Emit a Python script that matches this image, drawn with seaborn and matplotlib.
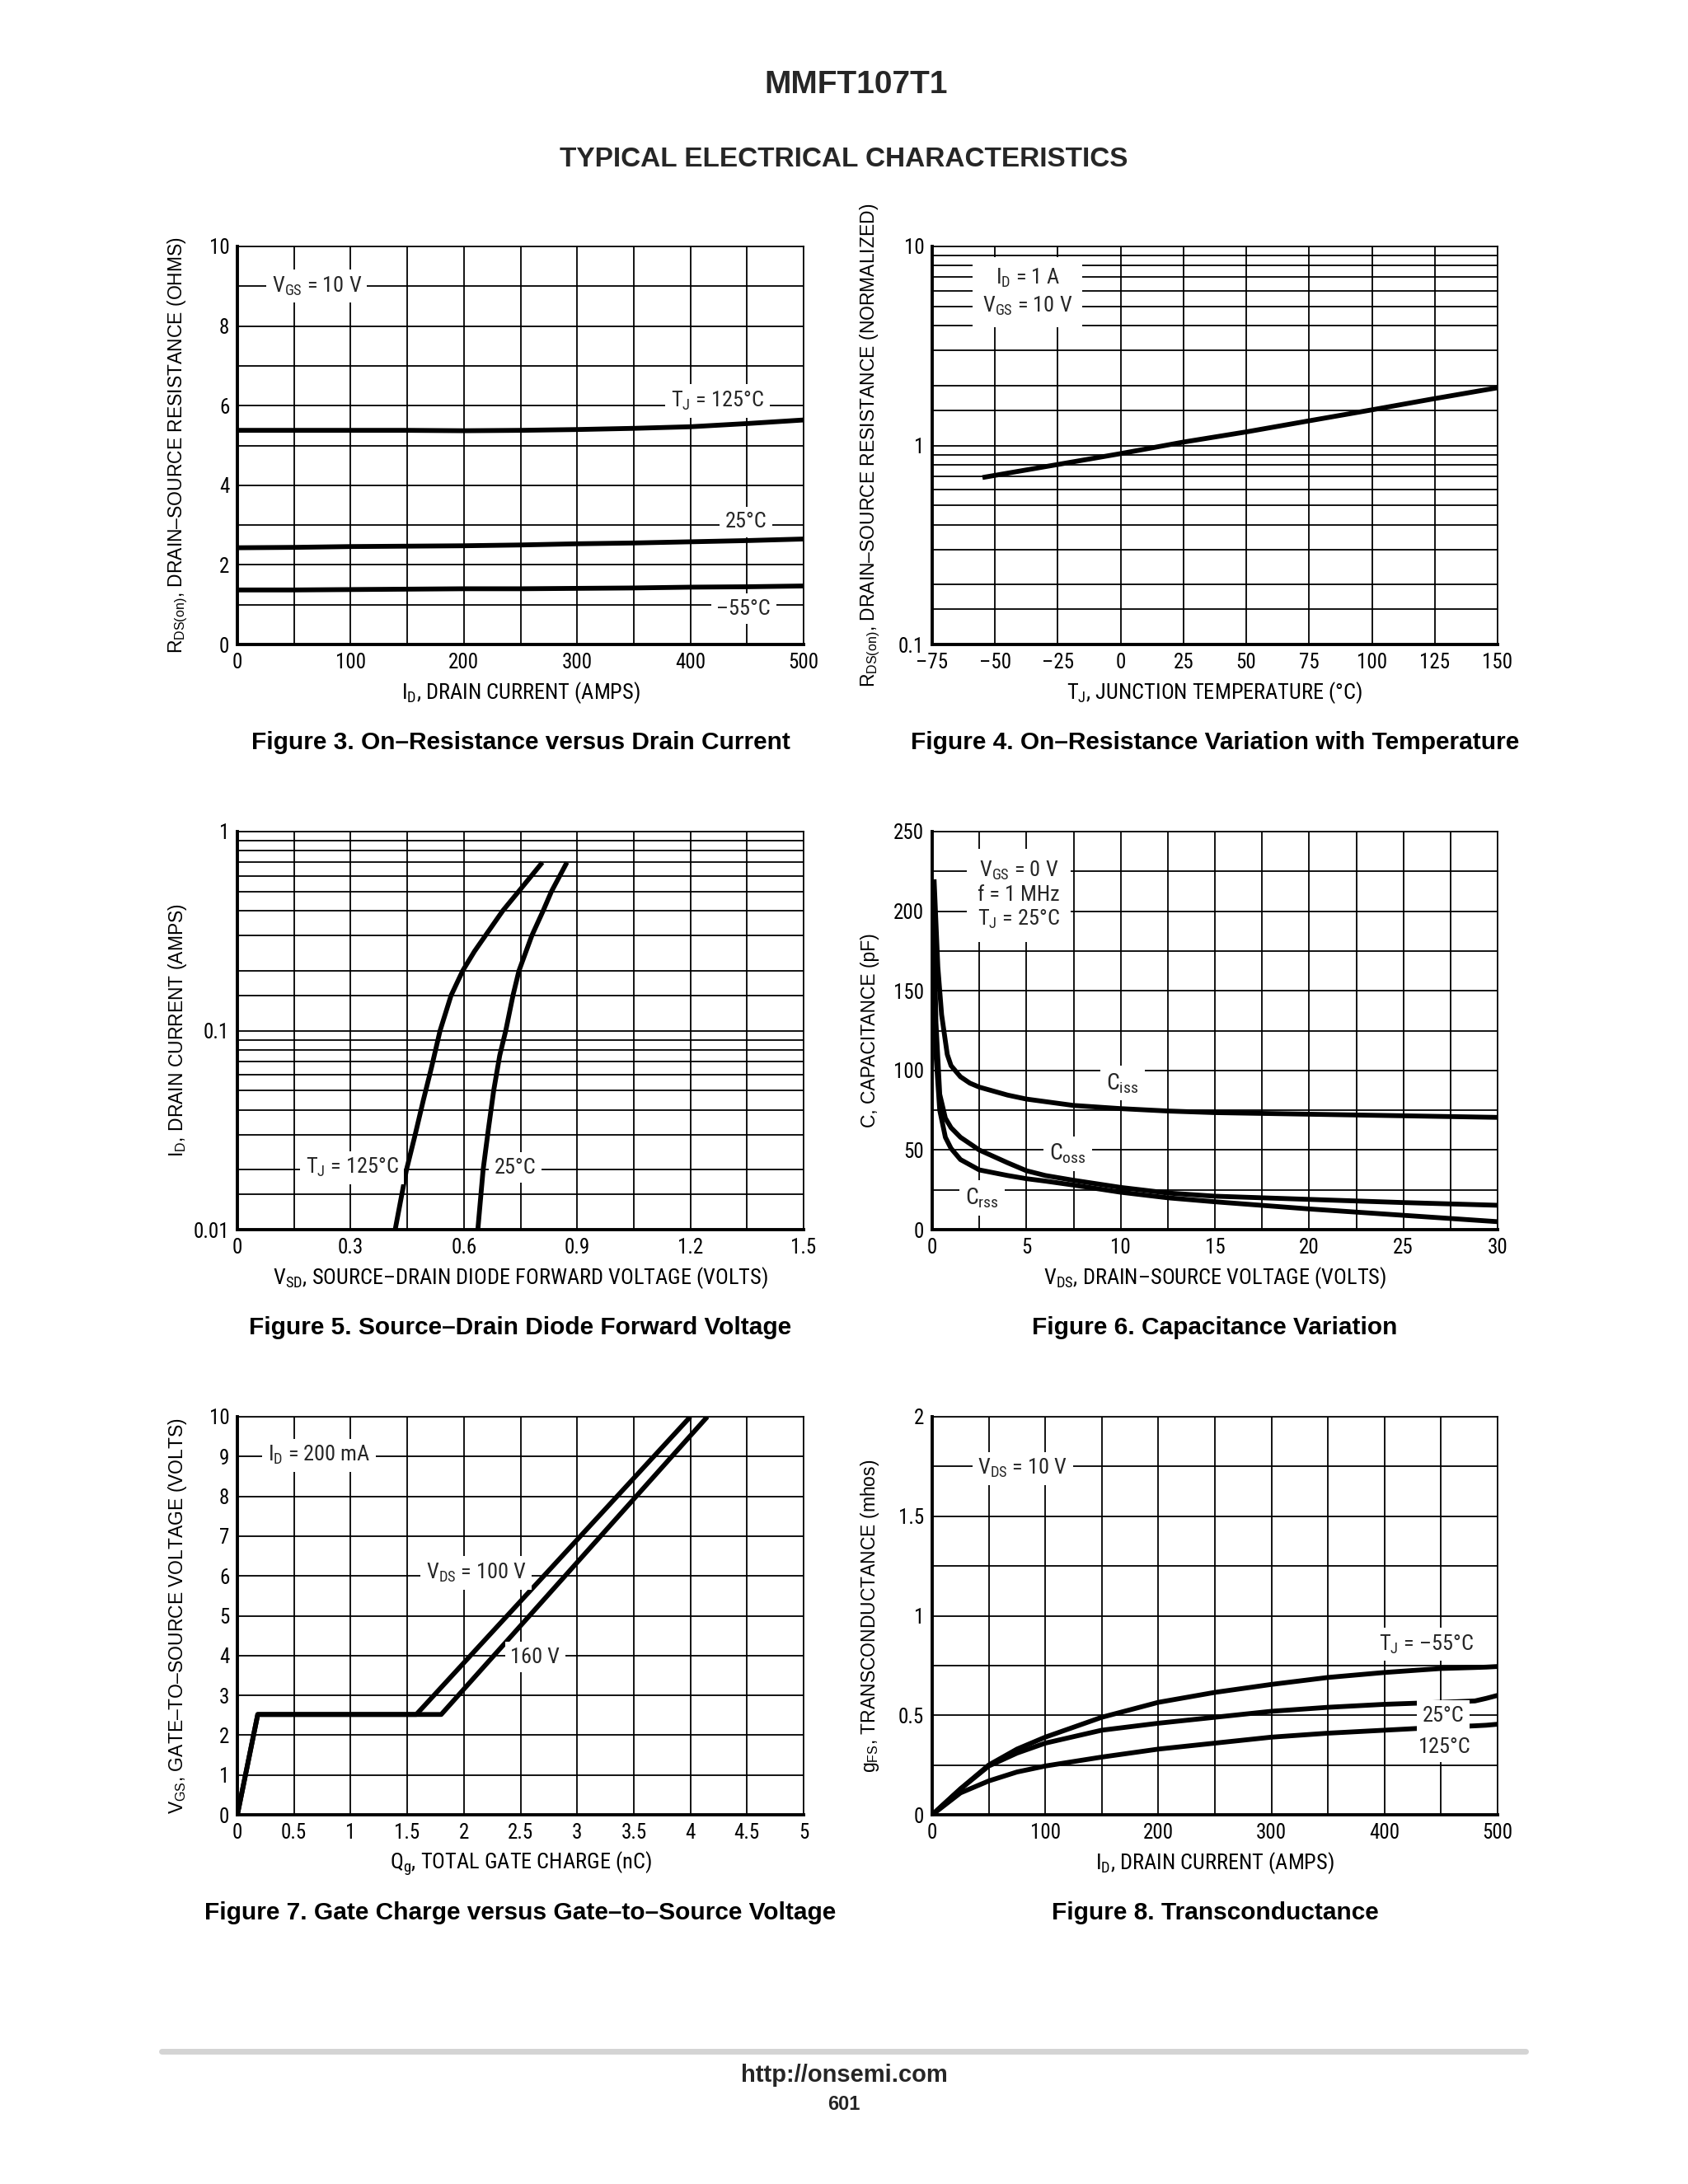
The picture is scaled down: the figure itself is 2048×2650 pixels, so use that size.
import numpy as np
import pandas as pd
import matplotlib
matplotlib.use("Agg")
import matplotlib.pyplot as plt
import seaborn as sns
from matplotlib import font_manager
from matplotlib.lines import Line2D
from matplotlib.ticker import NullFormatter, FixedLocator

# ---------------- DATA ----------------
# Figure 3: On-resistance vs drain current
fig3_id = [0, 50, 100, 150, 200, 250, 300, 350, 400, 450, 500]
fig3_r_125 = [5.38, 5.38, 5.38, 5.38, 5.37, 5.38, 5.40, 5.43, 5.47, 5.55, 5.64]
fig3_r_25 = [2.43, 2.44, 2.46, 2.47, 2.48, 2.50, 2.53, 2.55, 2.58, 2.61, 2.65]
fig3_r_m55 = [1.37, 1.37, 1.38, 1.39, 1.40, 1.40, 1.41, 1.42, 1.44, 1.45, 1.47]

# Figure 4: normalized on-resistance vs temperature
fig4_tj = [-55, 0, 25, 50, 75, 100, 125, 150]
fig4_r = [0.69, 0.91, 1.04, 1.17, 1.33, 1.51, 1.72, 1.95]

# Figure 5: source-drain diode forward voltage
fig5_v_125 = [0.418, 0.448, 0.471, 0.493, 0.514, 0.537, 0.566, 0.597, 0.628, 0.657, 0.703, 0.745, 0.808]
fig5_i_125 = [0.010, 0.020, 0.030, 0.045, 0.065, 0.100, 0.150, 0.200, 0.250, 0.300, 0.400, 0.500, 0.700]
fig5_v_25 = [0.637, 0.651, 0.665, 0.679, 0.695, 0.711, 0.730, 0.746, 0.780, 0.810, 0.832, 0.873]
fig5_i_25 = [0.010, 0.020, 0.032, 0.050, 0.075, 0.100, 0.150, 0.200, 0.300, 0.400, 0.500, 0.700]

# Figure 6: capacitance variation
fig6_v_iss = [0.1, 0.3, 0.5, 0.8, 1.0, 1.5, 2.0, 2.5, 4, 5, 7.5, 10, 12.5, 15, 20, 25, 30]
fig6_c_iss = [220, 165, 135, 110, 103, 96, 92, 89.5, 84.5, 82, 78, 76, 74.5, 73.5, 72.5, 71.5, 70.5]
fig6_v_oss = [0.05, 0.2, 0.4, 0.7, 1.0, 1.5, 2.5, 4, 5, 6, 7.5, 10, 12.5, 15, 20, 25, 30]
fig6_c_oss = [210, 130, 85, 70, 64, 58, 50, 42, 37, 34, 31, 26.5, 23, 21, 19, 17, 15.3]
fig6_v_rss = [0.05, 0.2, 0.4, 0.7, 1.0, 1.5, 2.5, 4, 5, 6, 7.5, 10, 12.5, 15, 20, 25, 30]
fig6_c_rss = [190, 110, 75, 58, 51, 44, 37.5, 34, 32, 30.5, 28, 23.5, 20, 17.5, 13, 9, 5]

# Figure 7: gate charge
fig7_q_100 = [0, 0.18, 1.58, 4.0]
fig7_v_100 = [0, 2.52, 2.52, 10]
fig7_q_160 = [0, 0.18, 1.80, 4.15]
fig7_v_160 = [0, 2.52, 2.52, 10]

# Figure 8: transconductance
fig8_id = [0, 25, 50, 75, 100, 150, 200, 250, 300, 350, 400, 450, 480, 490, 500]
fig8_g_m55 = [0, 0.13, 0.25, 0.33, 0.39, 0.49, 0.565, 0.615, 0.655, 0.69, 0.715, 0.735, 0.740, 0.742, 0.745]
fig8_g_25 = [0, 0.13, 0.245, 0.31, 0.36, 0.425, 0.46, 0.49, 0.52, 0.54, 0.555, 0.565, 0.572, 0.585, 0.60]
fig8_g_125 = [0, 0.11, 0.17, 0.215, 0.245, 0.29, 0.33, 0.36, 0.39, 0.41, 0.425, 0.44, 0.447, 0.45, 0.455]

# ---------------- STYLE ----------------
names = {f.name for f in font_manager.fontManager.ttflist}
NARROW = next((n for n in ["Roboto Condensed", "Archivo Narrow", "PT Sans Narrow",
                           "Liberation Sans Narrow", "Liberation Sans"] if n in names), "DejaVu Sans")
REG = "Liberation Sans" if "Liberation Sans" in names else "DejaVu Sans"

sns.set_theme(style="white")
plt.rcParams.update({
    "font.family": [NARROW, "DejaVu Sans"],
    "mathtext.fontset": "custom",
    "mathtext.rm": NARROW,
    "mathtext.sf": REG,
    "mathtext.default": "regular",
    "axes.unicode_minus": False,
})

W, H = 2048, 2650
fig = plt.figure(figsize=(W / 100, H / 100), dpi=100)
fig.patch.set_facecolor("white")

COLS = [(288, 687), (1131, 686)]
ROWS = [299, 1009, 1719]
AH = 483


def rect(x0, y0, w, h):
    return [x0 / W, 1 - (y0 + h) / H, w / W, h / H]


TICK_FS = 18
XLAB_FS = 19
YLAB_FS = 16.5
ANN_FS = 19
CAP_FS = 21.5
LW = 4.2
BOX = dict(boxstyle="square,pad=0.25", fc="white", ec="none")


def style_axes(ax, xlim, ylim, xmaj, xlabels, xminor, ymaj, ylabels, yminor, logy=False):
    if logy:
        ax.set_yscale("log")
    ax.set_xlim(*xlim)
    ax.set_ylim(*ylim)
    ax.xaxis.set_major_locator(FixedLocator(xmaj))
    ax.set_xticklabels(xlabels)
    ax.xaxis.set_minor_locator(FixedLocator(xminor))
    ax.yaxis.set_major_locator(FixedLocator(ymaj))
    ax.set_yticklabels(ylabels)
    ax.yaxis.set_minor_locator(FixedLocator(yminor))
    ax.xaxis.set_minor_formatter(NullFormatter())
    ax.yaxis.set_minor_formatter(NullFormatter())
    ax.set_axisbelow(True)
    ax.grid(True, which="both", color="black", lw=1.3)
    ax.tick_params(which="both", length=0, labelsize=TICK_FS, colors="black")
    ax.tick_params(axis="x", pad=7)
    ax.tick_params(axis="y", pad=7)
    for s in ["left", "bottom"]:
        ax.spines[s].set_linewidth(2.8)
        ax.spines[s].set_color("black")
    for s in ["top", "right"]:
        ax.spines[s].set_linewidth(1.2)
        ax.spines[s].set_color("black")
    ax.set_facecolor("white")


def labels(ax, xlabel, ylabel, caption, yoff):
    ax.set_xlabel(xlabel, fontsize=XLAB_FS, color="black")
    ax.xaxis.set_label_coords(0.5, -59 / AH)
    ax.xaxis.label.set_va("center")
    ax.set_ylabel(ylabel, fontsize=YLAB_FS, color="black", family=REG)
    ax.yaxis.set_label_coords(yoff, 0.5)
    ax.yaxis.label.set_va("center")
    ax.text(0.5, -119 / AH, caption, transform=ax.transAxes, ha="center", va="center",
            fontsize=CAP_FS, fontweight="bold", family=REG, color="black")


def curves(ax, frames, x, y):
    df = pd.concat(frames, ignore_index=True)
    sns.lineplot(data=df, x=x, y=y, units="curve", estimator=None, sort=False,
                 color="black", lw=LW, legend=False, ax=ax, solid_capstyle="butt")


# ---------- Figure 3 ----------
ax3 = fig.add_axes(rect(COLS[0][0], ROWS[0], COLS[0][1], AH))
curves(ax3, [pd.DataFrame({"id": fig3_id, "r": fig3_r_125, "curve": "125"}),
             pd.DataFrame({"id": fig3_id, "r": fig3_r_25, "curve": "25"}),
             pd.DataFrame({"id": fig3_id, "r": fig3_r_m55, "curve": "-55"})], "id", "r")
style_axes(ax3, (0, 500), (0, 10), [0, 100, 200, 300, 400, 500],
           ["0", "100", "200", "300", "400", "500"], list(range(50, 500, 100)),
           [0, 2, 4, 6, 8, 10], ["0", "2", "4", "6", "8", "10"], [1, 3, 5, 7, 9])
ax3.text(70, 9.0, r"$V_{GS}$ = 10 V", ha="center", va="center", fontsize=ANN_FS, bbox=BOX)
ax3.text(424, 6.12, r"$T_{J}$ = 125°C", ha="center", va="center", fontsize=ANN_FS, bbox=BOX)
ax3.text(449, 3.08, "25°C", ha="center", va="center", fontsize=ANN_FS, bbox=BOX)
ax3.text(447, 0.9, "–55°C", ha="center", va="center", fontsize=ANN_FS, bbox=BOX)
labels(ax3, r"$I_{D}$, DRAIN CURRENT (AMPS)",
       r"$\mathsf{R_{DS(on)}}$, DRAIN–SOURCE RESISTANCE (OHMS)",
       "Figure 3. On–Resistance versus Drain Current", -0.105)

# ---------- Figure 4 ----------
ax4 = fig.add_axes(rect(COLS[1][0], ROWS[0], COLS[1][1], AH))
curves(ax4, [pd.DataFrame({"tj": fig4_tj, "r": fig4_r, "curve": "a"})], "tj", "r")
log_minor = [0.15, 0.2, 0.3, 0.4, 0.5, 0.6, 0.7, 0.8, 0.9,
             1.5, 2, 3, 4, 5, 6, 7, 8, 9]
style_axes(ax4, (-75, 150), (0.1, 10), list(range(-75, 151, 25)),
           ["–75", "–50", "–25", "0", "25", "50", "75", "100", "125", "150"], [],
           [0.1, 1, 10], ["0.1", "1", "10"], log_minor, logy=True)
ax4.text(-37, 5.9, "$I_{D}$ = 1 A\n$V_{GS}$ = 10 V", ha="center", va="center",
         fontsize=ANN_FS, linespacing=1.3,
         bbox=dict(boxstyle="square,pad=0.45", fc="white", ec="none"))
labels(ax4, r"$T_{J}$, JUNCTION TEMPERATURE (°C)",
       r"$\mathsf{R_{DS(on)}}$, DRAIN–SOURCE RESISTANCE (NORMALIZED)",
       "Figure 4. On–Resistance Variation with Temperature", -0.11)

# ---------- Figure 5 ----------
ax5 = fig.add_axes(rect(COLS[0][0], ROWS[1], COLS[0][1], AH))
curves(ax5, [pd.DataFrame({"v": fig5_v_125, "i": fig5_i_125, "curve": "125"}),
             pd.DataFrame({"v": fig5_v_25, "i": fig5_i_25, "curve": "25"})], "v", "i")
log_minor5 = [0.015, 0.02, 0.03, 0.04, 0.05, 0.06, 0.07, 0.08, 0.09,
              0.15, 0.2, 0.3, 0.4, 0.5, 0.6, 0.7, 0.8, 0.9]
style_axes(ax5, (0, 1.5), (0.01, 1), [0, 0.3, 0.6, 0.9, 1.2, 1.5],
           ["0", "0.3", "0.6", "0.9", "1.2", "1.5"], [0.15, 0.45, 0.75, 1.05, 1.35],
           [0.01, 0.1, 1], ["0.01", "0.1", "1"], log_minor5, logy=True)
ax5.text(0.304, 0.0205, r"$T_{J}$ = 125°C", ha="center", va="center", fontsize=ANN_FS, bbox=BOX)
ax5.text(0.736, 0.0205, "25°C", ha="center", va="center", fontsize=ANN_FS, bbox=BOX)
labels(ax5, r"$V_{SD}$, SOURCE–DRAIN DIODE FORWARD VOLTAGE (VOLTS)",
       r"$\mathsf{I_{D}}$, DRAIN CURRENT (AMPS)",
       "Figure 5. Source–Drain Diode Forward Voltage", -0.105)

# ---------- Figure 6 ----------
ax6 = fig.add_axes(rect(COLS[1][0], ROWS[1], COLS[1][1], AH))
curves(ax6, [pd.DataFrame({"v": fig6_v_iss, "c": fig6_c_iss, "curve": "iss"}),
             pd.DataFrame({"v": fig6_v_oss, "c": fig6_c_oss, "curve": "oss"}),
             pd.DataFrame({"v": fig6_v_rss, "c": fig6_c_rss, "curve": "rss"})], "v", "c")
style_axes(ax6, (0, 30), (0, 250), [0, 5, 10, 15, 20, 25, 30],
           ["0", "5", "10", "15", "20", "25", "30"], [2.5, 7.5, 12.5, 17.5, 22.5, 27.5],
           [0, 50, 100, 150, 200, 250], ["0", "50", "100", "150", "200", "250"],
           [25, 75, 125, 175, 225])
ax6.text(4.6, 210, "$V_{GS}$ = 0 V\nf = 1 MHz\n$T_{J}$ = 25°C", ha="center", va="center",
         fontsize=ANN_FS, linespacing=1.2,
         bbox=dict(boxstyle="square,pad=0.5", fc="white", ec="none"))
ax6.text(10.1, 92, "$C_{iss}$", ha="center", va="center", fontsize=ANN_FS + 1, bbox=BOX)
ax6.text(7.2, 47.5, "$C_{oss}$", ha="center", va="center", fontsize=ANN_FS + 1, bbox=BOX)
ax6.text(2.65, 20, "$C_{rss}$", ha="center", va="center", fontsize=ANN_FS + 1, bbox=BOX)
labels(ax6, r"$V_{DS}$, DRAIN–SOURCE VOLTAGE (VOLTS)",
       "C, CAPACITANCE (pF)",
       "Figure 6. Capacitance Variation", -0.11)

# ---------- Figure 7 ----------
ax7 = fig.add_axes(rect(COLS[0][0], ROWS[2], COLS[0][1], AH))
curves(ax7, [pd.DataFrame({"q": fig7_q_100, "v": fig7_v_100, "curve": "100"}),
             pd.DataFrame({"q": fig7_q_160, "v": fig7_v_160, "curve": "160"})], "q", "v")
style_axes(ax7, (0, 5), (0, 10), [0, 0.5, 1, 1.5, 2, 2.5, 3, 3.5, 4, 4.5, 5],
           ["0", "0.5", "1", "1.5", "2", "2.5", "3", "3.5", "4", "4.5", "5"], [],
           list(range(0, 11)), [str(i) for i in range(0, 11)], [])
ax7.text(0.72, 9.03, "$I_{D}$ = 200 mA", ha="center", va="center", fontsize=ANN_FS, bbox=BOX)
ax7.text(2.11, 6.08, "$V_{DS}$ = 100 V", ha="center", va="center", fontsize=ANN_FS, bbox=BOX)
ax7.text(2.63, 3.96, "160 V", ha="center", va="center", fontsize=ANN_FS, bbox=BOX)
labels(ax7, r"$Q_{g}$, TOTAL GATE CHARGE (nC)",
       r"$\mathsf{V_{GS}}$, GATE–TO–SOURCE VOLTAGE (VOLTS)",
       "Figure 7. Gate Charge versus Gate–to–Source Voltage", -0.105)

# ---------- Figure 8 ----------
ax8 = fig.add_axes(rect(COLS[1][0], ROWS[2], COLS[1][1], AH))
curves(ax8, [pd.DataFrame({"id": fig8_id, "g": fig8_g_m55, "curve": "-55"}),
             pd.DataFrame({"id": fig8_id, "g": fig8_g_25, "curve": "25"}),
             pd.DataFrame({"id": fig8_id, "g": fig8_g_125, "curve": "125"})], "id", "g")
style_axes(ax8, (0, 500), (0, 2), [0, 100, 200, 300, 400, 500],
           ["0", "100", "200", "300", "400", "500"], list(range(50, 500, 100)),
           [0, 0.5, 1, 1.5, 2], ["0", "0.5", "1", "1.5", "2"], [0.25, 0.75, 1.25, 1.75])
ax8.text(80, 1.74, "$V_{DS}$ = 10 V", ha="center", va="center", fontsize=ANN_FS, bbox=BOX)
ax8.text(437, 0.857, "$T_{J}$ = –55°C", ha="center", va="center", fontsize=ANN_FS, bbox=BOX)
ax8.text(452, 0.497, "25°C", ha="center", va="center", fontsize=ANN_FS, bbox=BOX)
ax8.text(453, 0.34, "125°C", ha="center", va="center", fontsize=ANN_FS, bbox=BOX)
labels(ax8, r"$I_{D}$, DRAIN CURRENT (AMPS)",
       r"$\mathsf{g_{FS}}$, TRANSCONDUCTANCE (mhos)",
       "Figure 8. Transconductance", -0.11)

# ---------- Page texts ----------
fig.text(1039 / W, 1 - 103 / H, "MMFT107T1", ha="center", va="center",
         fontsize=28, fontweight="bold", family=REG)
fig.text(0.5, 1 - 193 / H, "TYPICAL ELECTRICAL CHARACTERISTICS", ha="center", va="center",
         fontsize=24, fontweight="bold", family=REG)
fig.add_artist(Line2D([196 / W, 1851 / W], [1 - 2489 / H] * 2, color="#d4d4d4", lw=5,
                      solid_capstyle="round"))
fig.text(0.5, 1 - 2518 / H, "http://onsemi.com", ha="center", va="center",
         fontsize=21, fontweight="bold", family=REG)
fig.text(0.5, 1 - 2553 / H, "601", ha="center", va="center",
         fontsize=17, fontweight="bold", family=REG)

fig.savefig("out.png", dpi=100, facecolor="white")
